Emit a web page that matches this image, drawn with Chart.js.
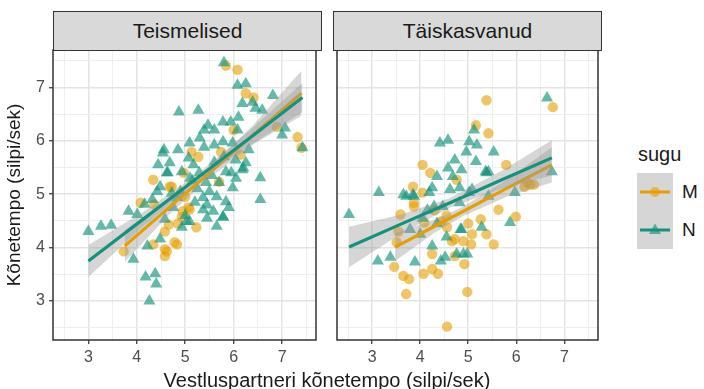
<!DOCTYPE html>
<html><head><meta charset="utf-8">
<script src="https://cdn.jsdelivr.net/npm/chart.js@4.4.0/dist/chart.umd.min.js"></script>
<style>
body{margin:0;width:704px;height:389px;overflow:hidden;background:#fff;font-family:"Liberation Sans",Arial,sans-serif;position:relative}
canvas{position:absolute;top:0}
.strip{position:absolute;top:11px;height:40px;background:#d9d9d9;border:1.5px solid #333;box-sizing:border-box;font-size:21px;color:#1a1a1a;text-align:center;line-height:37px}
.txt{position:absolute;color:#1a1a1a;white-space:nowrap}
</style></head>
<body>
<canvas id="c1" width="323" height="389" style="left:0;width:323px;height:389px"></canvas>
<canvas id="c2" width="275" height="389" style="left:330px;width:275px;height:389px"></canvas>
<div class="strip" style="left:53px;width:269px">Teismelised</div>
<div class="strip" style="left:333px;width:269px">Täiskasvanud</div>
<div class="txt" style="left:77px;width:500px;text-align:center;top:369px;font-size:20px;line-height:22px">Vestluspartneri kõnetempo (silpi/sek)</div>
<div class="txt" style="left:638px;top:143px;font-size:20px;line-height:22px">sugu</div>
<canvas id="leg" width="36" height="76" style="left:637px;top:173px;width:36px;height:76px"></canvas>
<div class="txt" style="left:682px;top:181px;font-size:19px;line-height:22px">M</div>
<div class="txt" style="left:682px;top:219px;font-size:19px;line-height:22px">N</div>
<script>
// ---- data ----
const xTickLabels = [3, 4, 5, 6, 7];
const yTickLabels = [3, 4, 5, 6, 7];
const panels = ["Teismelised", "Täiskasvanud"];
const groups = ["M", "N"];

const teenM = [[5.84,7.41],[6.08,7.33],[6.25,6.89],[6.41,6.81],[6.00,6.20],[6.89,6.26],[7.32,6.07],[7.40,5.87],[5.13,5.79],[5.27,5.70],
[5.74,5.79],[6.14,5.74],[5.70,5.23],[4.97,5.40],[4.68,5.14],[5.07,4.75],[4.93,4.58],[4.66,4.43],[5.23,4.38],[4.78,4.10],
[4.58,3.97],[4.58,3.84],[4.34,5.27],[4.08,4.84],[4.72,5.14],[4.83,4.06],[4.62,3.93],[3.73,3.93],[4.34,4.06],[4.95,4.68],
[4.58,4.30],[4.36,4.81],[5.09,4.71],[5.00,4.95],[4.85,4.45]];

const teenN = [[3.00,4.30],[3.26,4.40],[3.47,4.42],[3.83,4.68],[4.22,4.03],[3.93,3.78],[4.18,3.45],[4.38,3.51],[4.40,3.32],[4.26,3.00],
[4.54,5.77],[4.85,5.83],[4.44,5.55],[4.64,5.40],[4.93,5.42],[4.42,5.05],[4.58,4.53],[4.48,4.16],[5.03,4.49],[4.93,4.38],
[5.09,5.96],[5.39,5.88],[5.60,5.92],[4.68,5.59],[5.07,5.68],[5.17,5.55],[5.29,5.40],[5.43,5.22],[5.70,5.22],[5.98,5.12],
[6.18,5.46],[5.84,5.42],[5.84,4.86],[6.55,4.90],[4.48,5.14],[4.83,4.94],[5.37,4.94],[5.58,4.68],[5.37,4.71],[5.78,4.57],
[5.09,4.49],[5.80,7.46],[6.08,7.04],[6.25,7.07],[6.81,6.85],[4.87,6.54],[5.27,6.57],[6.18,6.70],[6.39,6.72],[6.45,6.61],
[6.59,6.57],[6.10,6.44],[5.47,6.29],[5.78,6.35],[5.94,6.35],[5.39,6.20],[5.60,6.20],[6.08,6.20],[4.56,5.83],[5.78,5.98],
[6.31,5.83],[7.00,6.11],[7.06,6.24],[7.42,5.87],[6.25,5.59],[5.98,5.96],[6.55,5.31],[6.20,5.49],[6.04,5.64],[5.78,4.58],
[4.62,5.40],[4.01,4.62],[4.16,4.81],[4.32,4.90],
[5.15,5.25],[5.25,5.10],[5.50,5.05],[5.65,4.95],[5.45,4.55],[5.65,4.40],[5.90,4.75],[4.75,4.75],[4.90,5.05],[5.20,4.85],
[5.55,5.35],[5.10,5.30],[4.72,5.02],[5.95,5.40],[6.05,5.30],[5.80,5.70],[5.30,6.05],[5.60,5.60],[5.45,4.80],[5.00,4.60]];

const adultM = [[5.38,6.76],[6.76,6.63],[5.16,6.29],[5.42,6.14],[5.79,5.55],[4.05,5.55],[4.21,5.40],[6.29,5.18],[6.17,5.14],
[3.51,4.10],[3.46,3.64],[3.65,3.47],[3.77,3.41],[3.71,3.13],[4.07,3.51],[4.25,3.60],[4.37,3.51],[4.72,3.84],[4.92,3.69],
[4.98,3.17],[4.56,2.52],[5.53,4.06],[5.99,4.58],[5.38,4.25],[5.08,4.25],[4.72,4.16],[3.87,4.77],[3.55,4.30],[3.85,5.14],
[4.05,5.03],[5.63,4.71],[4.56,4.38],[4.66,4.12],[5.26,4.53],[5.06,4.06],[6.37,5.18],[6.23,5.22],[4.76,5.27],[3.87,4.84],
[4.25,3.88],[3.59,4.62],[4.09,4.47],[4.43,4.49],[4.90,4.12],[4.30,4.70],[4.55,4.60],[5.00,4.45]];

const adultN = [[2.52,4.62],[3.14,5.03],[3.65,4.99],[3.85,4.99],[3.12,3.75],[3.38,3.82],[3.89,3.73],[4.43,3.75],[4.25,4.03],[4.76,3.88],
[3.79,4.34],[4.19,5.03],[4.29,4.77],[4.55,4.20],[4.84,4.34],[4.90,3.88],
[4.41,5.96],[4.58,6.01],[5.12,6.20],[5.02,5.98],[5.18,5.92],[4.96,5.79],[4.72,5.64],[5.16,5.61],[5.36,5.42],[4.58,5.49],
[4.86,5.46],[4.68,5.33],[4.35,5.33],[3.71,4.96],[3.87,4.96],[4.25,5.12],[4.62,5.09],[4.82,5.12],[5.02,5.03],
[6.64,6.80],[6.74,5.42],[5.53,5.79],[5.42,5.42],
[5.38,5.40],[5.08,5.09],[5.42,4.96],[5.87,4.47],[5.28,4.38],[4.86,4.34],[4.98,3.88],[4.52,3.82],[5.97,5.03],[4.82,4.84],[4.47,4.77],
[4.05,4.55],[4.15,4.70],[4.35,4.45],[4.00,4.25]];

// regression fits: x, fitted, lower, upper
const teenN_fitX = [3.0, 4.1, 5.2, 6.3, 7.42];
const teenN_fit  = [3.75, 4.51, 5.27, 6.03, 6.81];
const teenN_lo   = [3.45, 4.37, 5.20, 5.89, 6.54];
const teenN_hi   = [4.05, 4.65, 5.34, 6.17, 7.08];

const teenM_fitX = [3.75, 4.65, 5.4, 6.4, 7.4];
const teenM_fit  = [4.03, 4.74, 5.32, 6.11, 6.89];
const teenM_lo   = [3.73, 4.60, 5.23, 5.93, 6.47];
const teenM_hi   = [4.33, 4.88, 5.41, 6.29, 7.31];

const adultN_fitX = [2.52, 3.6, 4.6, 5.7, 6.74];
const adultN_fit  = [4.01, 4.44, 4.83, 5.27, 5.68];
const adultN_lo   = [3.63, 4.26, 4.74, 5.10, 5.35];
const adultN_hi   = [4.39, 4.62, 4.92, 5.44, 6.01];

const adultM_fitX = [3.48, 4.3, 4.9, 5.8, 6.74];
const adultM_fit  = [4.01, 4.40, 4.68, 5.11, 5.55];
const adultM_lo   = [3.75, 4.28, 4.59, 4.95, 5.22];
const adultM_hi   = [4.27, 4.52, 4.77, 5.27, 5.88];

// ---- styling ----
const ORANGE = '#E69F00', TEAL = '#12937D';
const ORANGE_PT = 'rgba(230,159,0,0.6)', TEAL_PT = 'rgba(18,147,125,0.65)';
const BAND = 'rgba(153,153,153,0.4)';
const AX_MIN = 2.27, AX_MAX = 7.70;
const FONT = '"Liberation Sans", Arial, sans-serif';

const pts = a => a.map(p => ({x: p[0], y: p[1]}));
const zip = (xs, ys) => xs.map((x, i) => ({x, y: ys[i]}));

function fitSets(xs, fit, lo, hi, color, loIndex){
  return [
    {data: zip(xs, fit), showLine: true, borderColor: color, borderWidth: 3.2, pointRadius: 0, fill: false, tension: 0},
    {data: zip(xs, hi), showLine: true, borderWidth: 0, borderColor: 'rgba(0,0,0,0)', pointRadius: 0, backgroundColor: BAND, fill: {target: loIndex}},
    {data: zip(xs, lo), showLine: true, borderWidth: 0, borderColor: 'rgba(0,0,0,0)', pointRadius: 0, fill: false}
  ];
}

const borderPlugin = {
  id: 'panelBorder',
  afterDraw(chart){
    const {ctx, chartArea: a} = chart;
    ctx.save();
    ctx.strokeStyle = '#333';
    ctx.lineWidth = 1.5;
    ctx.strokeRect(a.left, a.top, a.right - a.left, a.bottom - a.top);
    ctx.restore();
  }
};

function isInt(v){ return Math.abs(v - Math.round(v)) < 1e-6; }

function axisCommon(labels){
  return {
    type: 'linear', min: AX_MIN, max: AX_MAX,
    afterBuildTicks(scale){
      const t = [];
      for (let v = Math.ceil(AX_MIN * 2) / 2; v <= AX_MAX + 1e-9; v += 0.5) t.push({value: v});
      scale.ticks = t;
    },
    border: {display: false},
    grid: {
      color: c => isInt(c.tick.value) ? '#e4e4e4' : '#efefef',
      lineWidth: c => isInt(c.tick.value) ? 1.5 : 1,
      tickColor: c => isInt(c.tick.value) ? '#333' : 'rgba(0,0,0,0)',
      tickLength: 4, tickWidth: 1.2
    },
    ticks: {
      autoSkip: false, maxRotation: 0, color: '#4d4d4d',
      font: {family: FONT, size: 16},
      callback: v => (isInt(v) && labels.includes(Math.round(v))) ? String(Math.round(v)) : ''
    }
  };
}

function makePanel(id, M, N, fM, fN, showY){
  const datasets = [
    ...fitSets(fN.x, fN.fit, fN.lo, fN.hi, TEAL, 2),
    ...fitSets(fM.x, fM.fit, fM.lo, fM.hi, ORANGE, 5),
    {data: pts(N), pointStyle: 'triangle', pointRadius: 7, backgroundColor: TEAL_PT, borderWidth: 0, showLine: false},
    {data: pts(M), pointStyle: 'circle', pointRadius: 5.2, backgroundColor: ORANGE_PT, borderWidth: 0, showLine: false}
  ];
  const xAxis = axisCommon(xTickLabels);
  xAxis.ticks.padding = 4;
  xAxis.afterFit = s => { s.height = 49; };
  const yAxis = axisCommon(yTickLabels);
  if (showY){
    yAxis.ticks.padding = 4;
    yAxis.afterFit = s => { s.width = 53; };
    yAxis.title = {display: true, text: 'Kõnetempo (silpi/sek)', color: '#1a1a1a',
      font: {family: FONT, size: 19}, padding: {top: 3, bottom: 0}};
  } else {
    yAxis.ticks.display = false;
    yAxis.grid.drawTicks = false;
    yAxis.afterFit = s => { s.width = 0; };
  }
  return new Chart(document.getElementById(id), {
    type: 'scatter',
    data: {datasets},
    options: {
      responsive: false, animation: false, events: [],
      layout: {padding: showY ? {top: 50, right: 2, bottom: 0, left: 0} : {top: 50, right: 4, bottom: 0, left: 4}},
      plugins: {legend: {display: false}, tooltip: {enabled: false}, filler: {propagate: false}},
      scales: {x: xAxis, y: yAxis}
    },
    plugins: [borderPlugin]
  });
}

makePanel('c1', teenM, teenN,
  {x: teenM_fitX, fit: teenM_fit, lo: teenM_lo, hi: teenM_hi},
  {x: teenN_fitX, fit: teenN_fit, lo: teenN_lo, hi: teenN_hi}, true);
makePanel('c2', adultM, adultN,
  {x: adultM_fitX, fit: adultM_fit, lo: adultM_lo, hi: adultM_hi},
  {x: adultN_fitX, fit: adultN_fit, lo: adultN_lo, hi: adultN_hi}, false);

// legend keys
(function(){
  const ctx = document.getElementById('leg').getContext('2d');
  ctx.fillStyle = '#d6d6d6';
  ctx.fillRect(0, 0, 36, 76);
  const keys = [{c: ORANGE, pc: ORANGE_PT, y: 19, s: 'circle'}, {c: TEAL, pc: TEAL_PT, y: 57, s: 'tri'}];
  keys.forEach(k => {
    ctx.fillStyle = k.pc;
    ctx.beginPath();
    if (k.s === 'circle') ctx.arc(18, k.y, 5, 0, Math.PI * 2);
    else { ctx.moveTo(18, k.y - 6.5); ctx.lineTo(24, k.y + 4); ctx.lineTo(12, k.y + 4); ctx.closePath(); }
    ctx.fill();
    ctx.strokeStyle = k.c; ctx.lineWidth = 3;
    ctx.beginPath(); ctx.moveTo(3, k.y); ctx.lineTo(33, k.y); ctx.stroke();
  });
})();
</script>
</body></html>
